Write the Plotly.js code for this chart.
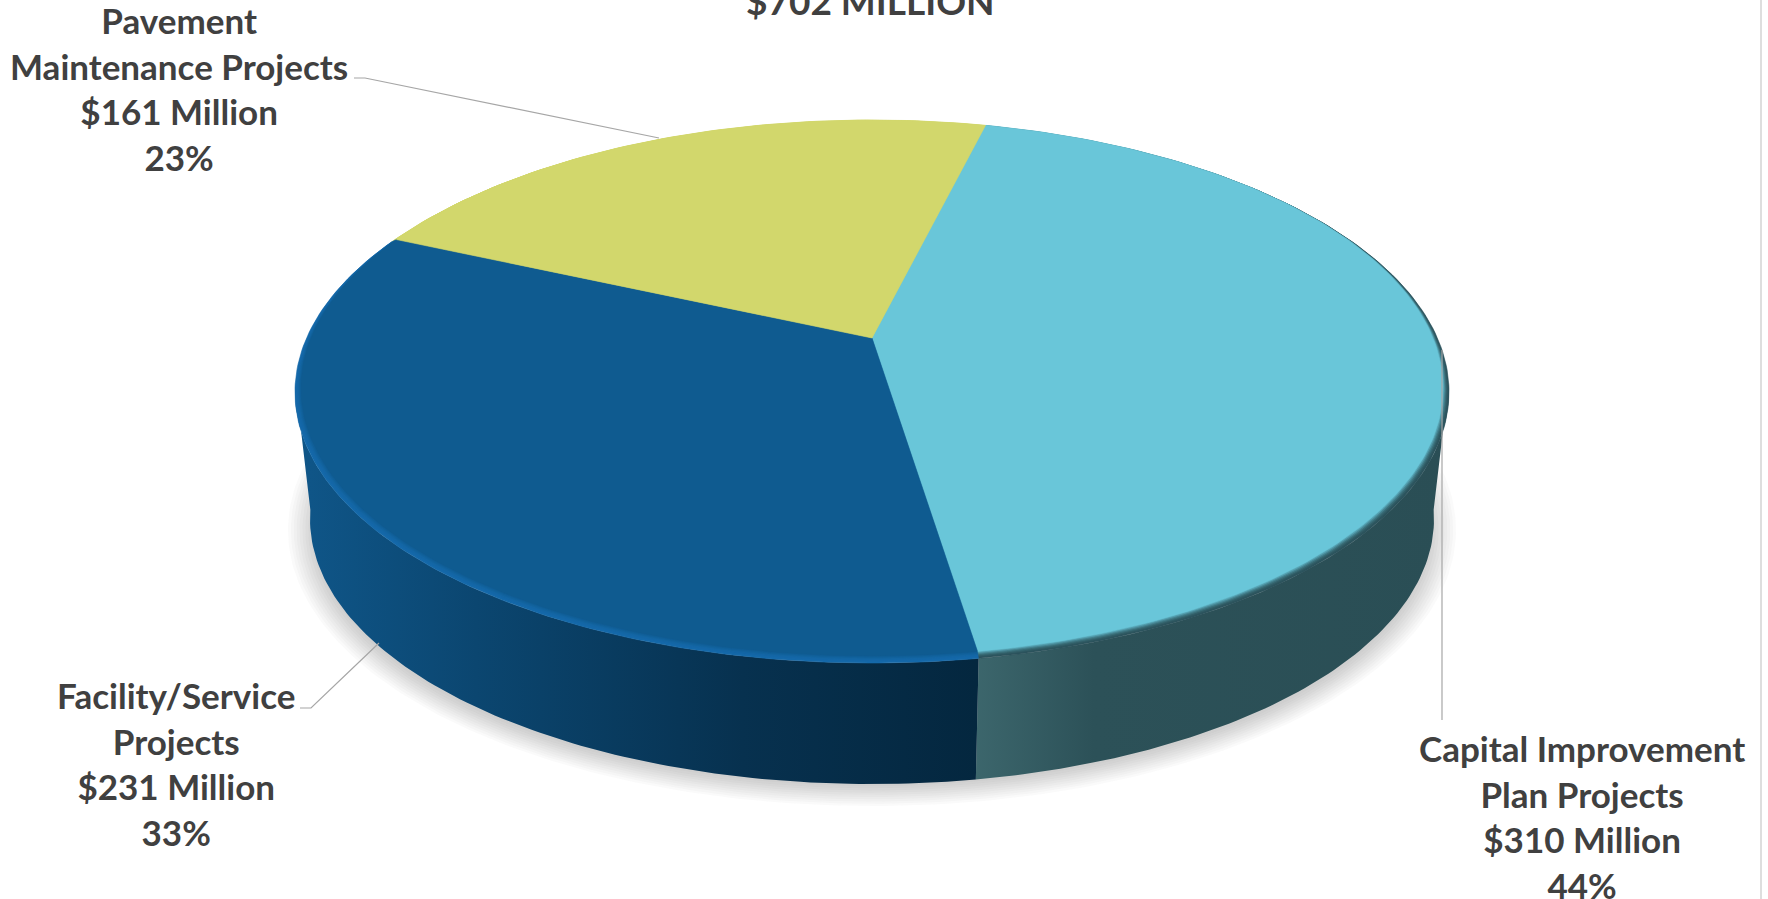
<!DOCTYPE html>
<html>
<head>
<meta charset="utf-8">
<script src="https://cdn.plot.ly/plotly-3.0.1.min.js"></script>
<style>html,body{margin:0;padding:0;background:#fff;overflow:hidden}#chart{width:1768px;height:899px}</style>
</head>
<body>
<div id="chart"></div>
<script>
// Budget categories, clockwise from the first slice boundary
const categories = ['Capital Improvement<br>Plan Projects', 'Facility/Service<br>Projects', 'Pavement<br>Maintenance Projects'];
const valuesMillions = [310, 231, 161];
const percentLabels = ['44%', '33%', '23%'];
const chartTitle = '$702 MILLION';

const faceColors = ['#69C6D9', '#0F5B90', '#D2D76C'];
const rimColors = ['#2C535C', '#1569AA', '#D2D76C'];
const wallStopsCyan = [[0, '#3C666C'], [0.25, '#2C5158'], [1, '#2A4E55']];
const wallStopsBlue = [[0, '#0F5587'], [0.25, '#0B4670'], [0.65, '#07314F'], [1, '#04273F']];

// Pie geometry on a 1768x899 pixel-valued pair of axes
const startAngle = 13.5;
const viewShift = {x: 0.0084, y: -0.12};   // perspective pull of the rim toward the back
const apex = [872, 338];
const rimEllipse = {cx: 872, cy: 392, rx: 577, ry: 271};
const faceEllipse = {cx: 872, cy: 388, rx: 571, ry: 268};
const baseEllipse = {cx: 872, cy: 519, rx: 562, ry: 265};

// Pie angle (clockwise from the back, degrees) to its angle on the drawn ellipse
function rimAngle(deg) {
  const t = deg * Math.PI / 180;
  const zr = Math.sin(t), zi = -Math.cos(t), wr = viewShift.x, wi = viewShift.y;
  const nr = zr + wr, ni = zi + wi;
  const dr = 1 + wr * zr + wi * zi, di = wr * zi - wi * zr;
  const m = dr * dr + di * di;
  const xr = (nr * dr + ni * di) / m, xi = (ni * dr - nr * di) / m;
  let a = Math.atan2(xr, -xi) * 180 / Math.PI;
  while (a < deg - 90) a += 360;
  while (a > deg + 90) a -= 360;
  return a;
}
function onEllipse(a, e) {
  const t = a * Math.PI / 180;
  return [e.cx + e.rx * Math.sin(t), e.cy - e.ry * Math.cos(t)];
}
function ellipseArc(from, to, e) {
  const pts = [], n = Math.max(2, Math.ceil(Math.abs(to - from)));
  for (let i = 0; i <= n; i++) pts.push(onEllipse(from + (to - from) * i / n, e));
  return pts;
}
function mix(c1, c2, t) {
  const p = c => [1, 3, 5].map(i => parseInt(c.substr(i, 2), 16));
  const a = p(c1), b = p(c2);
  return 'rgb(' + a.map((x, i) => Math.round(x + (b[i] - x) * t)).join(',') + ')';
}
function blend(e1, e2, t) {
  const o = {};
  for (const k in e1) o[k] = e1[k] + (e2[k] - e1[k]) * t;
  return o;
}
function poly(pts, extra) {
  return Object.assign({
    type: 'scatter', mode: 'lines', fill: 'toself',
    x: pts.map(p => p[0]), y: pts.map(p => p[1]),
    line: {width: 0}, hoverinfo: 'skip', showlegend: false
  }, extra);
}

// Slice boundaries from the values
const total = valuesMillions.reduce((s, v) => s + v, 0);
const bounds = [startAngle];
valuesMillions.forEach((v, i) => bounds.push(bounds[i] + v / total * 360));
const drawnBounds = bounds.map(rimAngle);

const traces = [];

// Soft ground shadow
for (let i = 0; i < 10; i++) {
  const g = i / 9;
  const e = {cx: 872, cy: 530, rx: 584 - 26 * g, ry: 276 - 20 * g};
  traces.push(poly(ellipseArc(0, 360, e), {fillcolor: 'rgba(90,90,90,0.028)'}));
}

// Side wall, split where the slice boundary meets the front of the disc
const split = drawnBounds[1];
const splitX = onEllipse(split, baseEllipse)[0];
const wallRight = ellipseArc(88, split, rimEllipse).concat(ellipseArc(split, 88, baseEllipse));
const wallLeft = ellipseArc(split, 272, rimEllipse).concat(ellipseArc(272, split, baseEllipse));
traces.push(poly(wallRight, {
  fillcolor: '#2A4E55',
  fillgradient: {type: 'horizontal', start: splitX, stop: rimEllipse.cx + rimEllipse.rx, colorscale: wallStopsCyan}
}));
traces.push(poly(wallLeft, {
  fillcolor: '#07314F',
  fillgradient: {type: 'horizontal', start: baseEllipse.cx - baseEllipse.rx, stop: splitX, colorscale: wallStopsBlue}
}));

// Bevelled rim fading into the flat top face, one stack per slice
const rimSteps = 6;
for (let s = 0; s <= rimSteps; s++) {
  const t = s / rimSteps;
  const e = blend(rimEllipse, faceEllipse, t);
  valuesMillions.forEach((_, i) => {
    const pts = [apex].concat(ellipseArc(drawnBounds[i], drawnBounds[i + 1], e), [apex]);
    const col = s === rimSteps ? faceColors[i] : mix(rimColors[i], faceColors[i], t * t);
    traces.push(poly(pts, {fillcolor: col, line: {width: 0.6, color: col}}));
  });
}

// Leader lines from each label to its slice
const leaderColor = '#A6A6A6';
const leaders = [
  {x: [1442, 1442], y: [350, 720]},
  {x: [300, 311, 379], y: [708, 708, 643]},
  {x: [354, 365, 659], y: [78, 78, 138]}
];
leaders.forEach(l => traces.push({
  type: 'scatter', mode: 'lines', x: l.x, y: l.y,
  line: {color: leaderColor, width: 1.2}, hoverinfo: 'skip', showlegend: false
}));

// Text
const textFont = {family: 'Lato, sans-serif', size: 35, color: '#404040', weight: 700};
const titleFont = {family: 'Lato, sans-serif', size: 37, color: '#404040', weight: 700};
const labelAnchors = [{x: 1582, y: 816}, {x: 176, y: 763}, {x: 179, y: 88}];
const annotations = categories.map((c, i) => ({
  xref: 'x', yref: 'y', x: labelAnchors[i].x, y: labelAnchors[i].y,
  text: '<b>' + c + '<br>$' + valuesMillions[i] + ' Million<br>' + percentLabels[i] + '</b>',
  showarrow: false, align: 'center', xanchor: 'center', yanchor: 'middle', font: textFont
}));
annotations.push({
  xref: 'x', yref: 'y', x: 870, y: 0, text: '<b>' + chartTitle + '</b>',
  showarrow: false, xanchor: 'center', yanchor: 'middle', font: titleFont
});

const layout = {
  width: 1768, height: 899,
  margin: {l: 0, r: 0, t: 0, b: 0},
  paper_bgcolor: '#fff', plot_bgcolor: '#fff',
  showlegend: false,
  xaxis: {range: [0, 1768], visible: false, fixedrange: true},
  yaxis: {range: [899, 0], visible: false, fixedrange: true},
  annotations: annotations,
  // Pale frame edge down the right-hand side
  shapes: [{type: 'line', xref: 'x', yref: 'y', x0: 1761, x1: 1761, y0: 0, y1: 899, line: {color: '#DEDEDE', width: 2}}]
};
Plotly.newPlot('chart', traces, layout, {displayModeBar: false, staticPlot: true});
</script>
</body>
</html>
